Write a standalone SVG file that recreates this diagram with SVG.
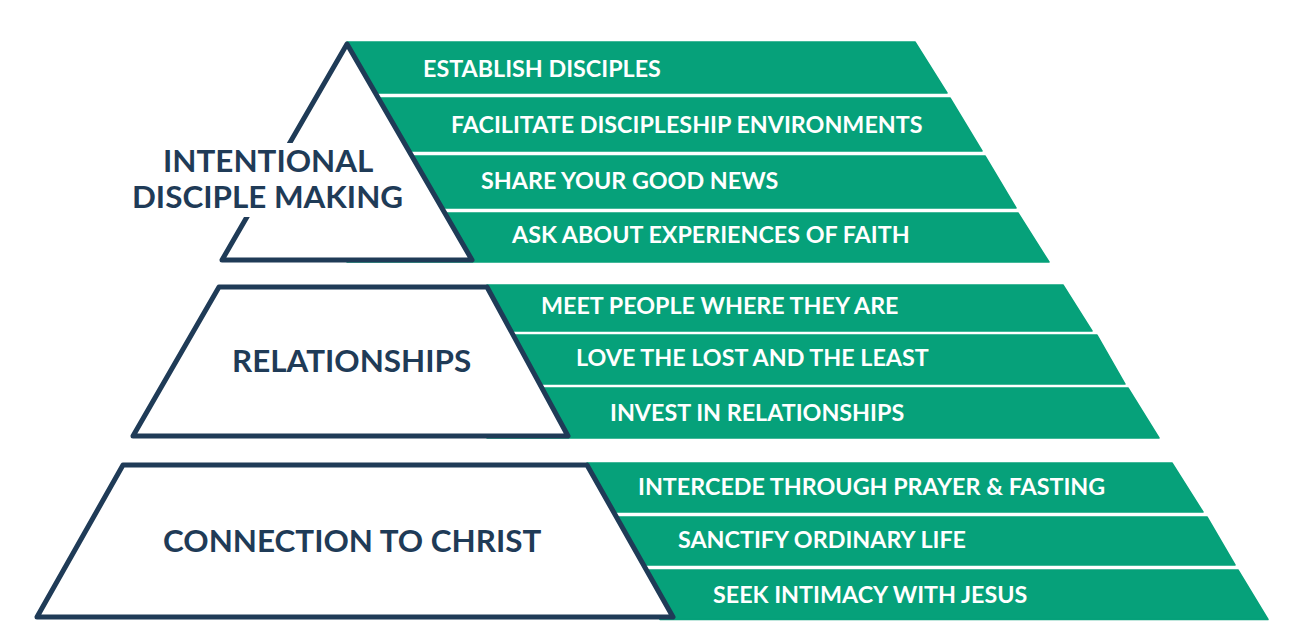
<svg xmlns="http://www.w3.org/2000/svg" width="1301" height="642" viewBox="0 0 1301 642">
<style>
.band{fill:#06a17a;stroke:#06a17a;stroke-width:1.5;stroke-linejoin:round}
.shape{fill:#ffffff;stroke:#1f3b57;stroke-width:5;stroke-linejoin:round}
.bl{font-family:Lato,"Liberation Sans",sans-serif;font-weight:700;font-size:23.3px;fill:#ffffff}
.ml{font-family:Lato,"Liberation Sans",sans-serif;font-weight:700;font-size:31.4px;fill:#1f3b57}
.knock{fill:#ffffff}
</style>
<rect width="1301" height="642" fill="#ffffff"/>
<g id="top-bands">
<g id="band-establish"><polygon class="band" points="347,42 915,42 947,93 347,93"/><text class="bl" x="423" y="76.5">ESTABLISH DISCIPLES</text></g>
<g id="band-facilitate"><polygon class="band" points="347,98 950,98 982,151 347,151"/><text class="bl" x="451" y="132.5">FACILITATE DISCIPLESHIP ENVIRONMENTS</text></g>
<g id="band-share"><polygon class="band" points="347,156 985,156 1016,208 347,208"/><text class="bl" x="481" y="188.5">SHARE YOUR GOOD NEWS</text></g>
<g id="band-ask"><polygon class="band" points="347,213 1018,213 1049,262 347,262"/><text class="bl" x="512" y="242.5">ASK ABOUT EXPERIENCES OF FAITH</text></g>
</g>
<g id="node-intentional">
<polygon class="shape" points="347,44 472,260 222,260"/>
<rect class="knock" x="158" y="143" width="225" height="37"/>
<rect class="knock" x="128" y="180" width="282" height="37"/>
<text class="ml" x="163" y="171.5">INTENTIONAL</text>
<text class="ml" x="132" y="207.5">DISCIPLE MAKING</text>
</g>
<g id="mid-bands">
<g id="band-meet"><polygon class="band" points="487,285 1063,285 1092,331 487,331"/><text class="bl" x="541" y="313.5">MEET PEOPLE WHERE THEY ARE</text></g>
<g id="band-love"><polygon class="band" points="487,335 1097,335 1125,384 487,384"/><text class="bl" x="576" y="365.5">LOVE THE LOST AND THE LEAST</text></g>
<g id="band-invest"><polygon class="band" points="487,388 1128,388 1159,438 487,438"/><text class="bl" x="610" y="420.5">INVEST IN RELATIONSHIPS</text></g>
</g>
<g id="node-relationships">
<polygon class="shape" points="219,287 487,287 568,436 133,436"/>
<text class="ml" x="232" y="371.5">RELATIONSHIPS</text>
</g>
<g id="bottom-bands">
<g id="band-intercede"><polygon class="band" points="587,463 1172,463 1203,512 587,512"/><text class="bl" x="638" y="494.5">INTERCEDE THROUGH PRAYER &amp; FASTING</text></g>
<g id="band-sanctify"><polygon class="band" points="587,517 1207,517 1235,565 587,565"/><text class="bl" x="678" y="547.5">SANCTIFY ORDINARY LIFE</text></g>
<g id="band-seek"><polygon class="band" points="640,570 1238,570 1268,619.5 660,619.5"/><text class="bl" x="713" y="602.5">SEEK INTIMACY WITH JESUS</text></g>
</g>
<g id="node-connection">
<polygon class="shape" points="123,465 587,465 673,617 37,617"/>
<text class="ml" x="163" y="551.5">CONNECTION TO CHRIST</text>
</g>
<g id="connectors"/>
</svg>
